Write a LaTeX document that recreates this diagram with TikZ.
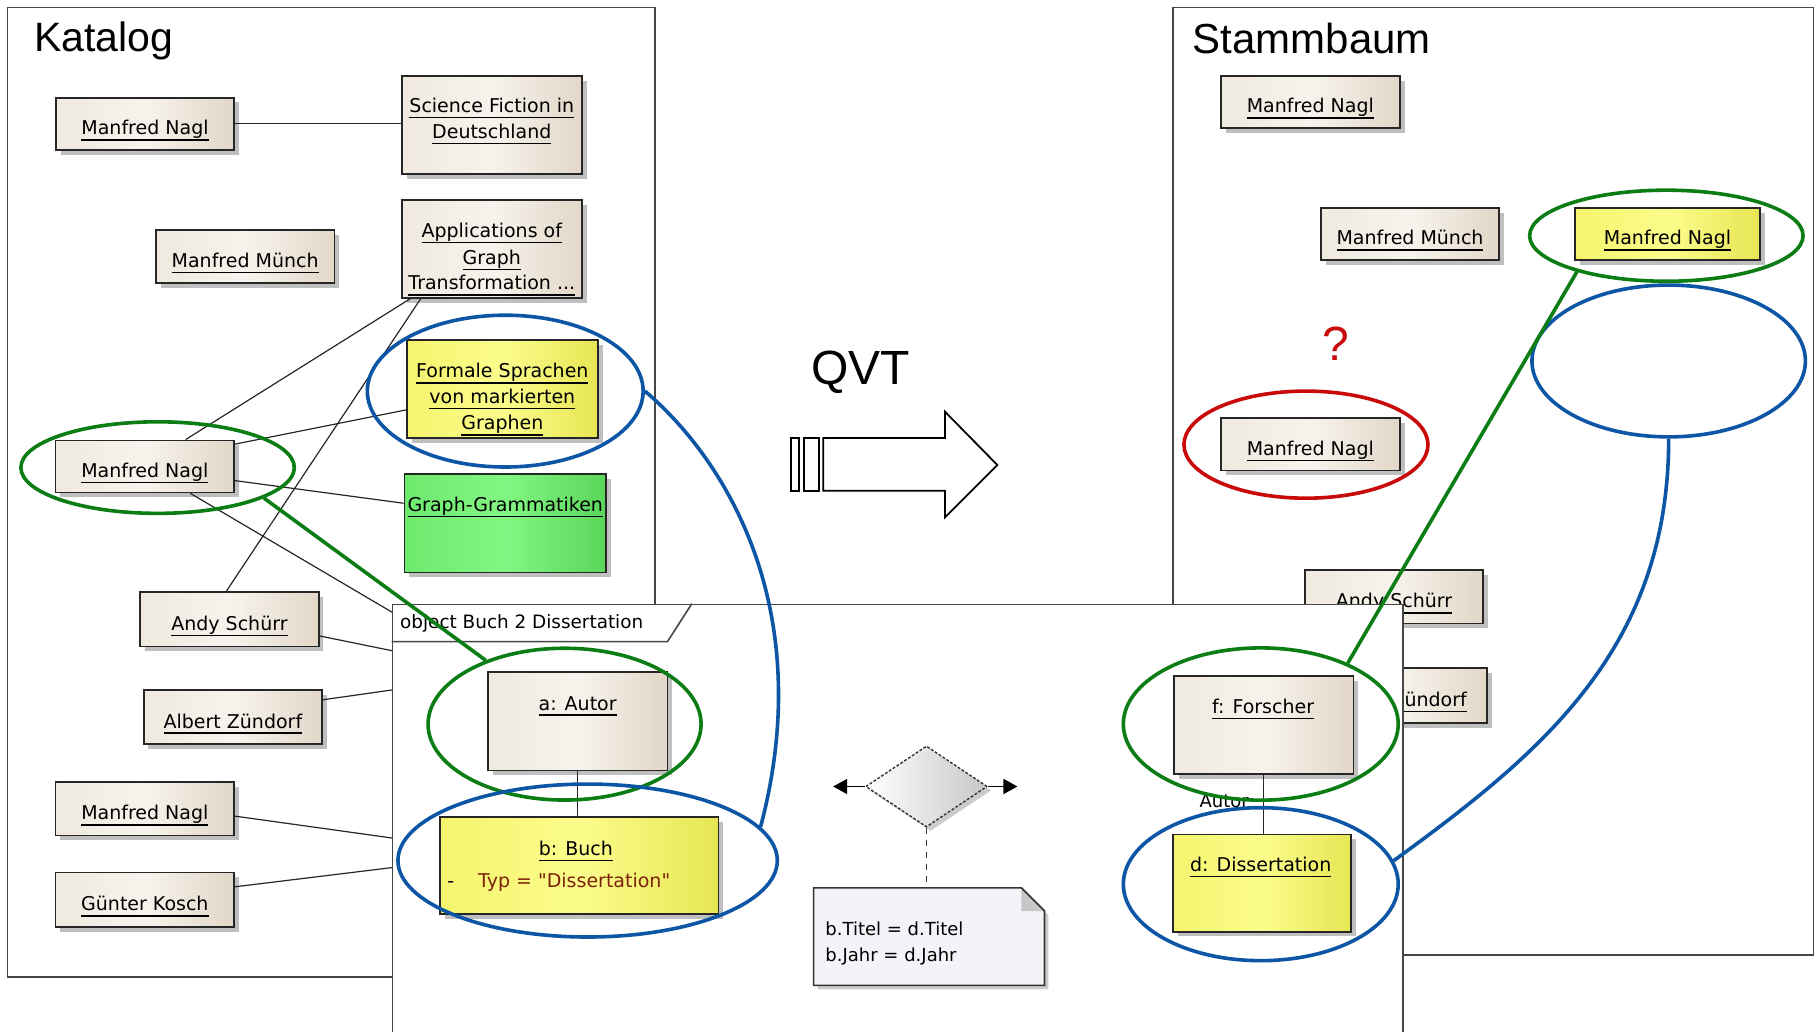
\documentclass[tikz,border=0pt]{standalone}
\usepackage{fontspec}
\setmainfont{Liberation Sans}
\newfontfamily\uif{DejaVu Sans}
\usetikzlibrary{shapes.geometric,shadows,calc,arrows.meta}
\newcommand\ux{0.5794pt}
\newcommand\boxf{\uif\fontsize{9.5}{11}\selectfont}
\newcommand\notef{\uif\fontsize{9}{11}\selectfont}
\newsavebox\ulbox
\newcommand\ulx[1]{\leavevmode\sbox\ulbox{#1}\rlap{\vrule width\wd\ulbox height -2.2pt depth 2.9pt}\usebox\ulbox}
\definecolor{bgA}{RGB}{239,233,223}
\definecolor{bgB}{RGB}{247,243,236}
\definecolor{bgC}{RGB}{226,215,200}
\definecolor{ylA}{RGB}{244,244,110}
\definecolor{ylB}{RGB}{252,252,140}
\definecolor{ylC}{RGB}{230,230,84}
\definecolor{grA}{RGB}{110,234,110}
\definecolor{grB}{RGB}{130,246,130}
\definecolor{grC}{RGB}{90,214,90}
\definecolor{egreen}{RGB}{12,125,20}
\definecolor{eblue}{RGB}{12,86,165}
\definecolor{ered}{RGB}{200,10,10}
\definecolor{frm}{RGB}{70,70,70}
\definecolor{typc}{RGB}{125,35,10}
\definecolor{notefill}{RGB}{245,243,248}
\tikzset{
  sz/.style 2 args={minimum width=#1*\ux, minimum height=#2*\ux},
  objbox/.style={draw=black!85, line width=0.85pt, inner sep=0pt, font=\boxf,
    drop shadow={shadow xshift=2.4pt, shadow yshift=-2.4pt, opacity=0.25, fill=black}},
  beige/.style={objbox, left color=bgA, right color=bgC, middle color=bgB},
  yellowb/.style={objbox, left color=ylA, right color=ylC, middle color=ylB},
  greenb/.style={objbox, left color=grA, right color=grC, middle color=grB},
  one/.style={text height=11pt, text depth=0pt},
  txt/.style={font=\boxf, inner sep=0pt, anchor=base},
  frame/.style={draw=frm, line width=0.8pt},
  conn/.style={draw=black!85, line width=0.6pt},
  ell/.style={ellipse, line width=1.8pt, inner sep=0pt},
  title/.style={inner sep=0pt, font=\fontsize{20.5}{24}\selectfont},
}
\begin{document}
\begin{tikzpicture}[x=0.5794pt, y=-0.5794pt]
\useasboundingbox (0,0) rectangle (1568,890);
\clip (0,0) rectangle (1568,890);
\fill[white] (0,0) rectangle (1568,890);

% frames
\draw[frame] (6.5,6.5) rectangle (565,843);
\draw[frame] (1012,6.6) rectangle (1565,824);
\node[title, anchor=base west] (kat) at (29,44.6) {Katalog};
\node[title, anchor=base west, font=\fontsize{21}{24}\selectfont] (stb) at (1029,46) {Stammbaum};

% hidden ends
\coordinate (h1) at (348,534);
\coordinate (h2) at (348,563.5);
\coordinate (h3) at (348,594);
\coordinate (h4) at (348,724.5);
\coordinate (h5) at (348,747.5);

% Katalog boxes
\node[beige, sz={153.7}{45.2}, one] (mn1) at (125.15,106.9) {\ulx{Manfred Nagl}};
\node[beige, sz={155.2}{84.6}] (sf) at (424.4,107.9) {};
\node[beige, sz={154.3}{45.5}, one] (mm) at (211.55,221.25) {\ulx{Manfred Münch}};
\node[beige, sz={155.2}{84.4}] (apps) at (424.4,214.8) {};
\node[yellowb, sz={165}{84.5}] (fs) at (433.5,335.75) {};
\node[beige, sz={154}{45}, one] (mn2) at (125,402.5) {\ulx{Manfred Nagl}};
\node[greenb, sz={174}{85}] (gg) at (436,451.5) {};
\node[beige, sz={154}{47}, one] (as) at (198,534.5) {\ulx{Andy Schürr}};
\node[beige, sz={154}{46.4}, one] (az) at (201,618.8) {\ulx{Albert Zündorf}};
\node[beige, sz={154}{46}, one] (mn3) at (125,698) {\ulx{Manfred Nagl}};
\node[beige, sz={154}{47}, one] (gk) at (125,776.5) {\ulx{Günter Kosch}};

\node[txt] (sf1) at (424.4,97) {\ulx{Science Fiction in}};
\node[txt] (sf2) at (424.4,119.5) {\ulx{Deutschland}};
\node[txt] (ap1) at (424.4,205) {\ulx{Applications of}};
\node[txt] (ap2) at (424.4,228) {\ulx{Graph}};
\node[txt] (ap3) at (424.4,250) {\ulx{Transformation ...}};
\node[txt] (fs1) at (433.5,326) {\ulx{Formale Sprachen}};
\node[txt] (fs2) at (433.5,348) {\ulx{von markierten}};
\node[txt] (fs3) at (433.5,371) {\ulx{Graphen}};
\node[txt] (gg1) at (436,441.5) {\ulx{Graph-Grammatiken}};

% Katalog connectors (drawn under boxes via background order trick: redraw boxes not needed, ends at borders)
\begin{scope}
\draw[conn] (mn1.east) -- (mn1.east -| sf.west);
\draw[conn] ($(mm.east)+(0,-4)$) -- ($(mm.east)+(0,-4)$ -| apps.west);
\draw[conn] ($(mn2.north west)+(113,0)$) -- ($(apps.south west)+(8,0)$);
\draw[conn] ($(as.north west)+(75,0)$) -- ($(apps.south west)+(17,0)$);
\draw[conn] ($(mn2.north east)+(0,4)$) -- ($(fs.west)+(0,18)$);
\draw[conn] ($(mn2.south east)+(0,-11)$) -- ($(gg.north west)+(0,26)$);
\draw[conn] ($(mn2.south west)+(117,0)$) -- (h1);
\draw[conn] ($(as.north east)+(0,38.5)$) -- (h2);
\draw[conn] ($(az.north east)+(0,9)$) -- (h3);
\draw[conn] ($(mn3.north east)+(0,30)$) -- (h4);
\draw[conn] ($(gk.north east)+(0,13)$) -- (h5);
\end{scope}

% Stammbaum boxes
\node[beige, sz={154.5}{45.2}, one] (s1) at (1130.75,88) {\ulx{Manfred Nagl}};
\node[beige, sz={153.6}{45.2}, one] (s2) at (1216.8,201.9) {\ulx{Manfred Münch}};
\node[yellowb, sz={160}{45.2}, one] (s3) at (1439,201.9) {\ulx{Manfred Nagl}};
\node[beige, sz={154.5}{45.4}, one] (s4) at (1130.75,383.3) {\ulx{Manfred Nagl}};
\node[beige, sz={154}{46}, one] (s5) at (1203,515) {\ulx{Andy Schürr}};
\node[beige, sz={154}{47.5}, one] (s6) at (1206,600.25) {\ulx{Albert Zündorf}};
\node[text=ered, inner sep=0pt, font=\fontsize{24}{28}\selectfont] (qm) at (1153,297) {?};

% QVT arrow
\node[inner sep=0pt, anchor=base west, font=\fontsize{24}{28}\selectfont] (qvt) at (700,332) {QVT};
\draw[line width=0.9pt] (682.6,378) rectangle (689.5,423.5);
\draw[line width=0.9pt] (694,378) rectangle (706.8,423.5);
\draw[line width=0.9pt, line join=miter] (710.5,378) -- (815.5,378) -- (815.5,355.3) -- (860.7,401.3) -- (815.5,446.4) -- (815.5,423.5) -- (710.5,423.5) -- cycle;

% object frame
\node[draw=frm, fill=white, line width=0.8pt, inner sep=0pt, sz={872}{390}, anchor=north west] (objf) at (338,521) {};
\draw[frame] ($(objf.north west)+(0,32.7)$) -- ($(objf.north west)+(238,32.7)$) -- ($(objf.north west)+(259,0)$);
\node[txt, anchor=base west, font=\uif\fontsize{9.2}{11}\selectfont] (tabt) at ($(objf.north west)+(7,21)$) {object Buch 2 Dissertation};

\node[beige, sz={155}{85}] (aa) at (498.5,622.5) {};
\node[yellowb, sz={240}{84}] (bb) at (500,747) {};
\draw[conn] (aa.south) -- (aa.south |- bb.north);
\node[txt] (aat) at (498.5,612.7) {\ulx{a: Autor}};
\node[txt] (bbt) at (497,738) {\ulx{b: Buch}};
\node[txt, text=typc] (typ) at (495.5,766) {Typ = "Dissertation"};
\node[txt] (dsh) at (389,766) {-};

\node[beige, sz={155}{84.6}] (ff) at (1090.5,625.7) {};
\node[yellowb, sz={154}{84}] (dd) at (1089,762) {};
\draw[conn] (ff.south) -- (ff.south |- dd.north);
\node[txt] (fft) at (1090,615.6) {\ulx{f: Forscher}};
\node[txt] (ddt) at (1088,752.2) {\ulx{d: Dissertation}};
\node[txt, anchor=base east, font=\notef] (autl) at (1078,697) {Autor};

% diamond and note
\node[diamond, draw=black!80, dash pattern=on 1.4pt off 0.9pt, line width=0.7pt, sz={105}{70}, inner sep=0pt,
  left color=white, right color=black!22,
  drop shadow={shadow xshift=2pt, shadow yshift=-2pt, opacity=0.2, fill=black}] (dia) at (799.5,678.7) {};
\coordinate (arL) at (719,678.7);
\coordinate (arR) at (878,678.7);
\draw[line width=0.8pt, -{Triangle[length=7pt,width=7.5pt]}] (dia.west) -- (arL);
\draw[line width=0.8pt, -{Triangle[length=7pt,width=7.5pt]}] (dia.east) -- (arR);

\node[inner sep=0pt, sz={198.5}{83.5}] (note) at (801.75,808.25) {};
\draw[black!80, line width=0.7pt, dashed] (dia.south) -- (dia.south |- note.north);
\path[draw=black!80, line width=0.8pt, fill=notefill,
  drop shadow={shadow xshift=2pt, shadow yshift=-2pt, opacity=0.2, fill=black}]
  (note.north west) -- ($(note.north east)+(-20,0)$) -- ($(note.north east)+(0,20)$) -- (note.south east) -- (note.south west) -- cycle;
\fill[black!22] ($(note.north east)+(-20,0)$) -- ($(note.north east)+(-20,20)$) -- ($(note.north east)+(0,20)$) -- cycle;
\draw[black!80, line width=0.8pt] ($(note.north east)+(-20,0)$) -- ($(note.north east)+(0,20)$);
\node[txt, anchor=base west, font=\notef] (n1) at (712,807) {b.Titel = d.Titel};
\node[txt, anchor=base west, font=\notef] (n2) at (712,830) {b.Jahr = d.Jahr};

% ellipses
\node[ell, draw=egreen, sz={236}{79}] (e1) at (136,403.5) {};
\node[ell, draw=eblue, sz={238}{131}] (efs) at (436,337.5) {};
\node[ell, draw=egreen, sz={235.6}{131}] (ea) at (487.2,624.9) {};
\node[ell, draw=eblue, sz={327.4}{132}] (eb) at (507.1,742.6) {};
\node[ell, draw=egreen, sz={237.2}{131.4}] (ef) at (1088,624.8) {};
\node[ell, draw=eblue, sz={237.2}{132}] (ed) at (1088,763) {};
\node[ell, draw=egreen, sz={236}{78.6}] (esy) at (1438,203.4) {};
\node[ell, draw=eblue, sz={236}{131}] (eemp) at (1440,311.5) {};
\node[ell, draw=ered, sz={210.6}{92.4}] (er) at (1127,383.7) {};

\draw[egreen, line width=1.8pt] (e1.344) -- (ea.141);
\draw[egreen, line width=1.8pt] (esy.202) -- (ef.35);
\draw[eblue, line width=1.8pt] (efs.east) .. controls (630,400) and (705,530) .. (eb.11);
\draw[eblue, line width=1.8pt] (eemp.south) .. controls (1440,560) and (1330,650) .. (ed.10);
\end{tikzpicture}
\end{document}
